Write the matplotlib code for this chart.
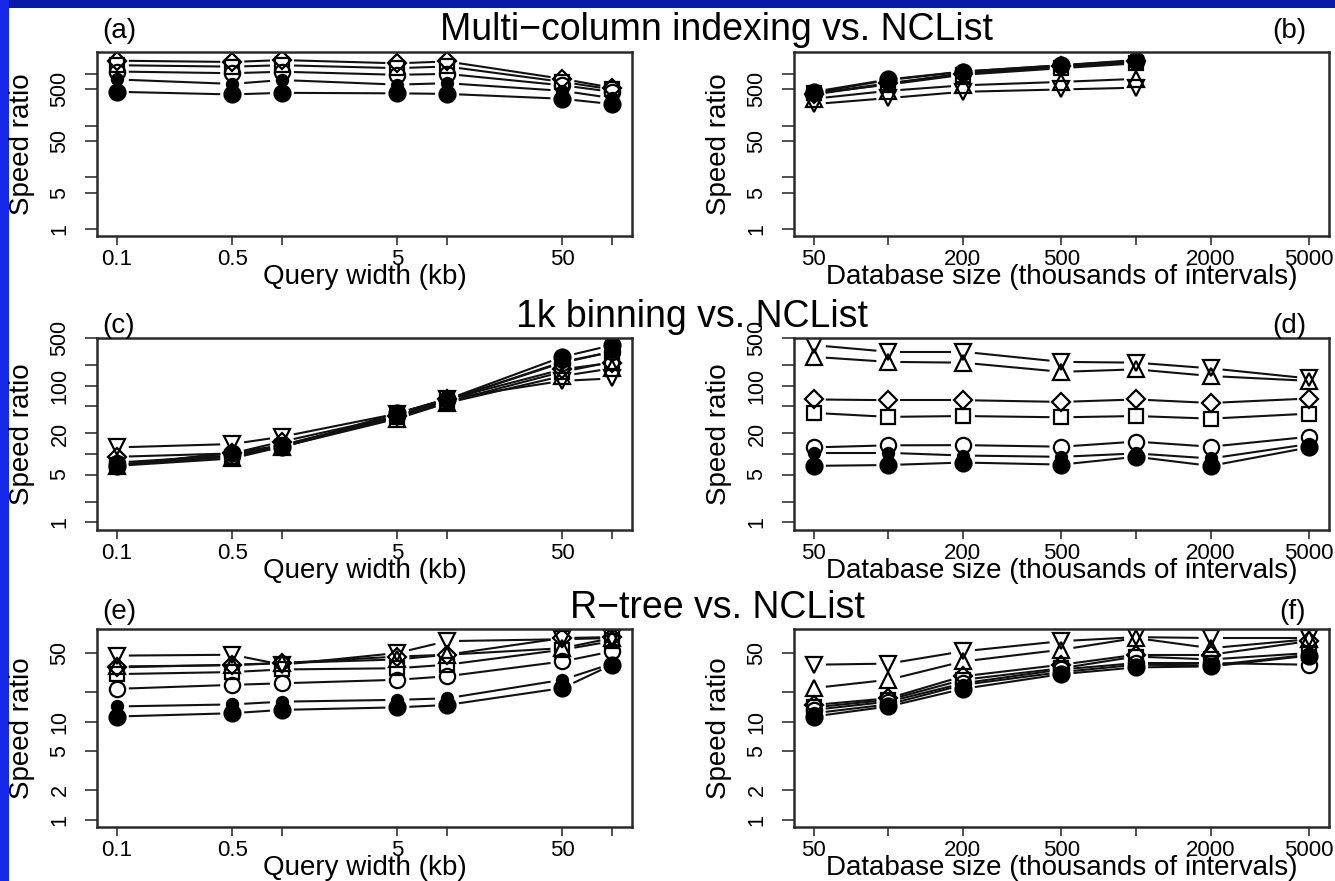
import numpy as np
import matplotlib
matplotlib.use("Agg")
import matplotlib.pyplot as plt
from matplotlib.patches import Rectangle
from matplotlib.ticker import NullLocator

plt.rcParams['font.family'] = ['Liberation Sans', 'DejaVu Sans']

# ---------------- data ----------------
query_width = [0.1, 0.5, 1, 5, 10, 50, 100]          # kb
db_size = [50, 100, 200, 500, 1000, 2000, 5000]      # thousands of intervals
db_size_mc = [50, 100, 200, 500, 1000]               # multi-column only up to 1000

# speed ratios: rows = query widths (0.1 ... 100 kb), columns = database sizes
mc_ratio = [
    [450, 780, 1110, 1470, 1800],
    [400, 640, 1030, 1380, 1700],
    [430, 760, 1100, 1470, 1850],
    [420, 620, 960, 1290, 1600],
    [410, 660, 1000, 1390, 1740],
    [330, 470, 600, 700, 800],
    [260, 340, 450, 500, 540],
]
bin_ratio = [
    [6.7, 6.9, 7.5, 7.0, 9.1, 6.7, 12.5],
    [10.4, 10.4, 9.5, 9.1, 10.2, 8.6, 14],
    [12.5, 13.4, 13.5, 12.8, 15.2, 12.8, 17.9],
    [40, 35, 36, 34.5, 36, 33, 39],
    [63, 61.5, 61.5, 58, 63, 56, 65],
    [265, 224, 218, 160, 174, 139, 118],
    [394, 315, 315, 224, 218, 180, 128],
]
rt_ratio = [
    [11.3, 14.3, 21.6, 30.5, 35.7, 36.5, 47],
    [12.2, 15, 23.7, 32, 38, 37.5, 48],
    [13.2, 16, 24.6, 34, 39.5, 39.5, 38],
    [14.0, 16.7, 26.7, 35, 46, 43, 50],
    [14.8, 17.3, 29, 38, 48, 48, 66],
    [22, 26.7, 41, 54, 71, 56, 69],
    [38, 39, 52, 66, 72.5, 71, 71],
]

titles = ["Multi\u2212column indexing vs. NCList", "1k binning vs. NCList", "R\u2212tree vs. NCList"]
panel_tags = ["(a)", "(b)", "(c)", "(d)", "(e)", "(f)"]
xlab_q = "Query width (kb)"
xlab_db = "Database size (thousands of intervals)"
ylab = "Speed ratio"

q_ticks = [0.1, 0.5, 1, 5, 10, 50, 100]
q_ticklabels = ["0.1", "0.5", "", "5", "", "50", ""]
db_ticks = [50, 100, 200, 500, 1000, 2000, 5000]
db_ticklabels = ["50", "", "200", "500", "", "2000", "5000"]
y_ticks_mc = [1, 5, 10, 50, 100, 500, 1000]
y_labels_mc = ["1", "5", "", "50", "", "500", ""]
y_ticks_bin = [1, 2, 5, 10, 20, 50, 100, 200, 500]
y_labels_bin = ["1", "", "5", "", "20", "", "100", "", "500"]
y_ticks_rt = [1, 2, 5, 10, 20, 50]
y_labels_rt = ["1", "2", "5", "10", "", "50"]

# ---------------- styles ----------------
markers = ['o', 'o', 'o', 's', 'D', '^', 'v']
msizes = [11.5, 8, 11, 10, 9.5, 12, 12]
filled = [True, True, False, False, False, False, False]

W, H = 1335, 881
fig = plt.figure(figsize=(W / 100, H / 100), dpi=100)
fig.patch.set_facecolor('white')

# blue slide frame
fig.add_artist(Rectangle((0, 1 - 8 / H), 1, 8 / H, transform=fig.transFigure,
                         facecolor='#0b1aa6', edgecolor='none', zorder=0))
fig.add_artist(Rectangle((0, 0), 8.5 / W, 1, transform=fig.transFigure,
                         facecolor='#1428e6', edgecolor='none', zorder=0))


def px_axes(l, t, r, b):
    return fig.add_axes([l / W, 1 - b / H, (r - l) / W, (b - t) / H])


def setup(ax, xlim, ylim, xt, xtl, yt, ytl):
    ax.set_xscale('log')
    ax.set_yscale('log')
    ax.set_xlim(*xlim)
    ax.set_ylim(*ylim)
    ax.set_xticks(xt, labels=xtl, fontsize=16)
    ax.set_yticks(yt, labels=ytl, fontsize=15.5, rotation=90, va='center')
    ax.xaxis.set_minor_locator(NullLocator())
    ax.yaxis.set_minor_locator(NullLocator())
    ax.tick_params(axis='x', direction='out', length=6.5, width=1.2, pad=3, color='#333333')
    ax.tick_params(axis='y', direction='out', length=9, width=1.2, pad=10, color='#333333')
    for s in ax.spines.values():
        s.set_linewidth(1.8)
        s.set_color('#2a2a2a')
    ax.set_facecolor('white')


def typeb(ax, xs, ys, k, gap=12):
    pts = ax.transData.transform(np.column_stack([xs, ys]))
    inv = ax.transData.inverted()
    for p0, p1 in zip(pts[:-1], pts[1:]):
        d = p1 - p0
        L = np.hypot(d[0], d[1])
        if L <= 2 * gap:
            continue
        u = d / L
        seg = inv.transform(np.array([p0 + u * gap, p1 - u * gap]))
        ax.plot(seg[:, 0], seg[:, 1], color='#111111', lw=1.5, solid_capstyle='butt')
    ax.plot(xs, ys, linestyle='none', marker=markers[k], ms=msizes[k],
            mfc=('black' if filled[k] else 'none'), mec='black', mew=1.6)


q_xlim = (10 ** -1.12, 10 ** 2.12)
db_xlim = (10 ** 1.619, 10 ** 3.779)

boxes = [
    (97, 52, 632, 236), (794, 52, 1329, 236),
    (97, 338, 632, 530), (794, 338, 1329, 530),
    (97, 629, 632, 827), (794, 629, 1329, 827),
]
ylims = [(0.73, 2650), (0.77, 501), (0.85, 87.7)]
yticks = [(y_ticks_mc, y_labels_mc), (y_ticks_bin, y_labels_bin), (y_ticks_rt, y_labels_rt)]
data = [mc_ratio, bin_ratio, rt_ratio]
dbs = [db_size_mc, db_size, db_size]
title_pos = [(717, 40), (692, 327), (717, 618)]
tag_base = [38, 333, 619]

for row in range(3):
    mat = np.array(data[row], dtype=float)
    dbx = dbs[row]
    # left panel: x = query width, series = database size
    axl = px_axes(*boxes[2 * row])
    setup(axl, q_xlim, ylims[row], q_ticks, q_ticklabels, *yticks[row])
    for j in range(len(dbx)):
        typeb(axl, query_width, mat[:, j], j)
    # right panel: x = database size, series = query width
    axr = px_axes(*boxes[2 * row + 1])
    setup(axr, db_xlim, ylims[row], db_ticks, db_ticklabels, *yticks[row])
    for i in range(len(query_width)):
        typeb(axr, dbx, mat[i, :], i)

    for ax, (l, t, r, b), xl in [(axl, boxes[2 * row], xlab_q), (axr, boxes[2 * row + 1], xlab_db)]:
        fig.text(((l + r) / 2) / W, 1 - (b + 48) / H, xl, ha='center', va='baseline', fontsize=20)
        fig.text((l - 75) / W, 1 - ((t + b) / 2) / H, ylab, ha='center', va='center',
                 rotation=90, fontsize=20)

    tx, ty = title_pos[row]
    fig.text(tx / W, 1 - ty / H, titles[row], ha='center', va='baseline', fontsize=27)
    fig.text(102 / W, 1 - tag_base[row] / H, panel_tags[2 * row], ha='left', va='baseline', fontsize=20)
    fig.text(1306 / W, 1 - tag_base[row] / H, panel_tags[2 * row + 1], ha='right', va='baseline', fontsize=20)

fig.savefig("out.png", dpi=100, facecolor='white')
